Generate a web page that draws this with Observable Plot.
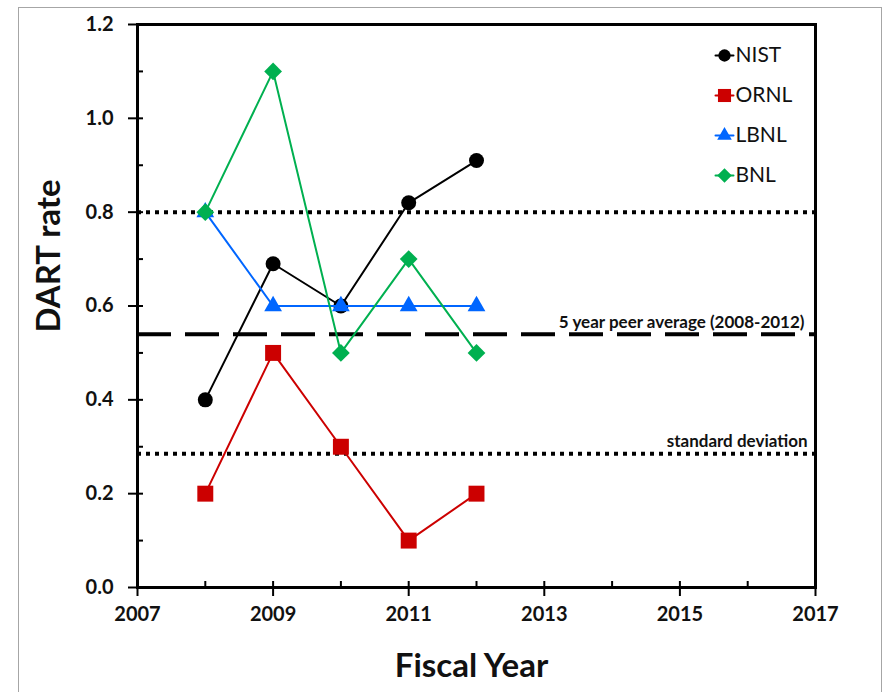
<!DOCTYPE html>
<html>
<head>
<meta charset="utf-8">
<script src="https://cdn.jsdelivr.net/npm/d3@7"></script>
<script src="https://cdn.jsdelivr.net/npm/@observablehq/plot@0.6"></script>
<style>
  html, body { margin: 0; padding: 0; background: #ffffff; }
  #wrap { position: relative; width: 883px; height: 692px; overflow: hidden; }
  #border { position: absolute; left: 18px; top: 7px; width: 862px; height: 700px; border: 1px solid #a6a6a6; background: #ffffff; }
  #chart { position: absolute; left: 0; top: 0; }
</style>
</head>
<body>
<div id="wrap"><div id="border"></div><div id="chart"></div></div>
<script>
// ---- data ----
const years = [2008, 2009, 2010, 2011, 2012];
const nistValues = [0.40, 0.69, 0.60, 0.82, 0.91];
const ornlValues = [0.20, 0.50, 0.30, 0.10, 0.20];
const lbnlValues = [0.80, 0.60, 0.60, 0.60, 0.60];
const bnlValues  = [0.80, 1.10, 0.50, 0.70, 0.50];

const seriesNames   = ["NIST", "ORNL", "LBNL", "BNL"];
const seriesValues  = [nistValues, ornlValues, lbnlValues, bnlValues];
const seriesColors  = ["#000000", "#cc0000", "#0066ff", "#00b050"];
const seriesSymbols = ["circle", "square", "triangle", "diamond2"];
const seriesRadius  = [7.5, 9, 6.6, 8];

const upperDotted = 0.80;
const peerAverage = 0.54;
const stdDevLine  = 0.285;
const peerLabel = "5 year peer average (2008-2012)";
const stdLabel  = "standard deviation";

const xMajorTicks = [2007, 2009, 2011, 2013, 2015, 2017];
const xAllTicks   = [2007, 2008, 2009, 2010, 2011, 2012, 2013, 2014, 2015, 2016, 2017];
const yMajorTicks = [0, 0.2, 0.4, 0.6, 0.8, 1.0, 1.2];
const yAllTicks   = [0, 0.1, 0.2, 0.3, 0.4, 0.5, 0.6, 0.7, 0.8, 0.9, 1.0, 1.1, 1.2];
const xTitle = "Fiscal Year";
const yTitle = "DART rate";

// ---- table ----
const rows = seriesNames.flatMap((name, si) =>
  years.map((yr, i) => ({series: name, year: yr, value: seriesValues[si][i]})));

const W = 883, H = 692;
const mL = 137, mR = 68, mT = 24, mB = 105;
const frameW = W - mL - mR, frameH = H - mT - mB;

const marks = [
  // reference lines
  Plot.ruleY([upperDotted], {stroke: "#000", strokeWidth: 4, strokeDasharray: "4,5"}),
  Plot.ruleY([peerAverage], {stroke: "#000", strokeWidth: 4, strokeDasharray: "34,14"}),
  Plot.ruleY([stdDevLine], {stroke: "#000", strokeWidth: 4, strokeDasharray: "4,5"}),
  Plot.text([peerLabel], {y: () => peerAverage, frameAnchor: "right", text: d => d, textAnchor: "end", lineAnchor: "bottom", dx: -11, dy: -6, fontSize: 17, fontWeight: "bold", fill: "#111"}),
  Plot.text([stdLabel], {y: () => stdDevLine, frameAnchor: "right", text: d => d, textAnchor: "end", lineAnchor: "bottom", dx: -8, dy: -7, fontSize: 17, fontWeight: "bold", fill: "#111"}),
];

seriesNames.forEach((name, si) => {
  const data = rows.filter(d => d.series === name);
  marks.push(Plot.line(data, {x: "year", y: "value", stroke: seriesColors[si], strokeWidth: 2}));
  marks.push(Plot.dot(data, {x: "year", y: "value", symbol: () => seriesSymbols[si], fill: seriesColors[si], r: seriesRadius[si], stroke: "none"}));
});

// legend inside plot, top-right
seriesNames.forEach((name, si) => {
  const dy = 31 + 40 * si;
  marks.push(Plot.vector([name], {frameAnchor: "top-right", dx: -91, dy, rotate: 90, length: 18, anchor: "middle", shape: "spike", r: 0, stroke: seriesColors[si], fill: seriesColors[si], strokeWidth: 2}));
  marks.push(Plot.dot([name], {frameAnchor: "top-right", dx: -91, dy, symbol: () => seriesSymbols[si], fill: seriesColors[si], r: seriesRadius[si] * 0.82, stroke: "none"}));
  marks.push(Plot.text([name], {frameAnchor: "top-right", dx: -80, dy, text: d => d, textAnchor: "start", lineAnchor: "middle", fontSize: 21, fill: "#111"}));
});

marks.push(
  // inside minor ticks
  Plot.tickX(xAllTicks, {x: d => d, insetTop: frameH - 6, stroke: "#000", strokeWidth: 2}),
  Plot.tickY(yAllTicks, {y: d => d, insetRight: frameW - 6, stroke: "#000", strokeWidth: 2}),
  // axes
  Plot.axisX(xMajorTicks, {tickSize: 9, tickPadding: 10, tickFormat: "d", fontSize: 20, fontWeight: "bold", strokeWidth: 2, label: null, fill: "#111"}),
  Plot.axisY(yMajorTicks, {tickSize: 9, tickPadding: 15, tickFormat: ".1f", fontSize: 20, fontWeight: "bold", strokeWidth: 2, label: null, fill: "#111"}),
  Plot.frame({stroke: "#000", strokeWidth: 3}),
  // axis titles
  Plot.text([xTitle], {frameAnchor: "bottom", text: d => d, textAnchor: "middle", lineAnchor: "middle", dx: -5, dy: 79, fontSize: 33, fontWeight: "bold", fill: "#111"}),
  Plot.text([yTitle], {frameAnchor: "left", text: d => d, textAnchor: "middle", lineAnchor: "middle", rotate: -90, dx: -88, dy: -50, fontSize: 33, fontWeight: "bold", fill: "#111"})
);

const chart = Plot.plot({
  width: W, height: H,
  marginLeft: mL, marginRight: mR, marginTop: mT, marginBottom: mB,
  x: {domain: [2007, 2017], axis: null},
  y: {domain: [0, 1.2], axis: null},
  style: {fontFamily: "Lato, 'Open Sans', sans-serif", background: "transparent", overflow: "visible"},
  marks
});
document.getElementById("chart").appendChild(chart);
</script>
</body>
</html>
